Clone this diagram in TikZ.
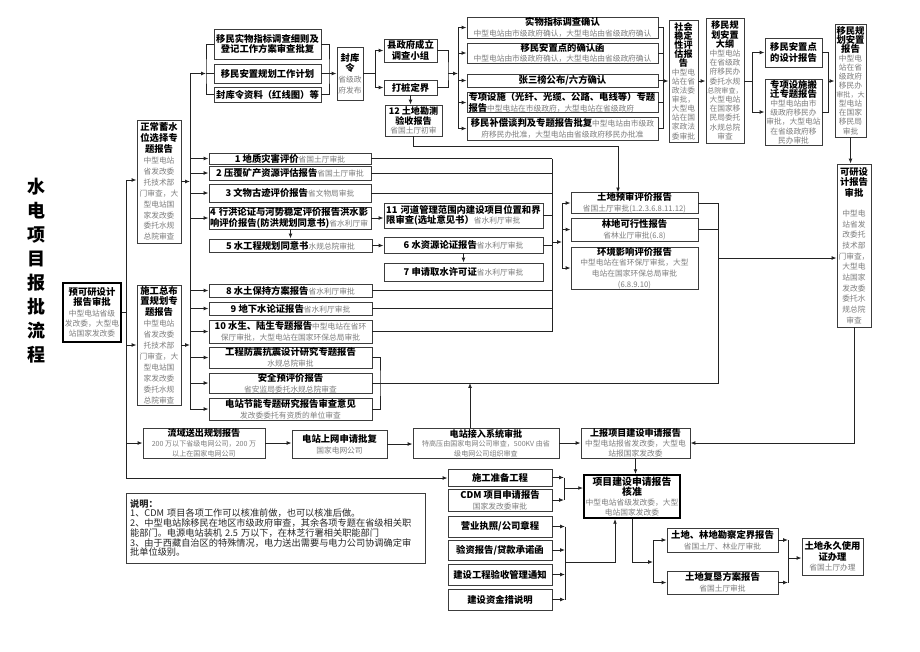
\documentclass[tikz,border=0pt]{standalone}
\usepackage{fontspec}
\setmainfont{Noto Sans CJK SC}
\usepackage{tikz}
\usetikzlibrary{arrows.meta}
\definecolor{boxline}{RGB}{60,60,60}
\definecolor{subgray}{RGB}{125,125,125}
\definecolor{linkgray}{RGB}{35,35,35}
\newcommand{\gl}[1]{{\mdseries\fontsize{5.8}{6.8}\selectfont\color{subgray}#1}}
\newcommand{\gls}[1]{{\mdseries\fontsize{5.3}{6.8}\selectfont\color{subgray}#1}}

\begin{document}
\begin{tikzpicture}[x=0.75pt, y=-0.75pt,
    rect/.style args={#1/#2/#3/#4}{at={({(#1+#3)/2},{(#2+#4)/2})},
                minimum width={(#3-#1)*0.75pt}, minimum height={(#4-#2)*0.75pt}},
    box/.style={rectangle, draw=boxline, line width=0.7pt, fill=white, inner sep=0pt,
                align=center, font=\fontsize{7}{8}\selectfont\bfseries},
    leftbox/.style={box, align=left, text width=#1},
    tallbox/.style={box, font=\fontsize{7}{8.2}\selectfont\bfseries},
    keybox/.style={draw=black, line width=1.4pt},
    link/.style={draw=linkgray, line width=0.6pt},
    arrow/.style={link, -{Latex[length=3.6pt, width=2.8pt]}}
]
\useasboundingbox (0,0) rectangle (920,651);

\node[font=\fontsize{13.5}{18}\selectfont\bfseries, align=center] (title) at (36,271)
  {水\\电\\项\\目\\报\\批\\流\\程};

% left column
\node[box, keybox, font=\fontsize{7}{7.8}\selectfont\bfseries, rect=63/283/121/342] (yks)
  {预可研设计\\报告审批\\\gl{中型电站省级}\\\gl{发改委，大型电}\\\gl{站国家发改委}};
\node[tallbox, rect=137/120/181/243] (zcxs)
  {正常蓄水\\位选择专\\题报告\\\gl{中型电站}\\\gl{省发改委}\\\gl{托技术部}\\\gl{门审查，大}\\\gl{型电站国}\\\gl{家发改委}\\\gl{委托水规}\\\gl{总院审查}};
\node[tallbox, rect=137/285/181/405] (sgzbz)
  {施工总布\\置规划专\\题报告\\\gl{中型电站}\\\gl{省发改委}\\\gl{托技术部}\\\gl{门审查，大}\\\gl{型电站国}\\\gl{家发改委}\\\gl{委托水规}\\\gl{总院审查}};

% top row
\node[box, rect=214/29/321/59] (sw1) {移民实物指标调查细则及\\登记工作方案审查批复};
\node[box, rect=214/64/321/83] (sw2) {移民安置规划工作计划};
\node[box, rect=214/87/321/102] (sw3) {封库令资料（红线图）等};
\node[box, rect=337/47/363/100] (fkl) {封库\\令\\\gl{省级政}\\\gl{府发布}};
\node[box, rect=384/39/437/62] (xzf) {县政府成立\\调查小组};
\node[box, rect=384/80/437/95] (dzd) {打桩定界};
\node[box, font=\fontsize{6.8}{7.3}\selectfont\bfseries, rect=385/105/442/136] (tk12)
  {12 土地勘测\\验收报告\\\gl{省国土厅初审}};
\node[box, rect=467/17/658/38] (q1) {实物指标调查确认\\\gl{中型电站由市级政府确认，大型电站由省级政府确认}};
\node[box, rect=467/43/658/63] (q2) {移民安置点的确认函\\\gl{中型电站由市级政府确认，大型电站由省级政府确认}};
\node[box, rect=467/74/658/87] (q3) {张三榜公布/六方确认};
\node[leftbox=141pt, rect=467/93/658/112] (q4)
  {专项设施（光纤、光缆、公路、电线等）专题\\报告\gl{中型电站在市级政府，大型电站在省级政府}};
\node[box, rect=467/117/658/140] (q5)
  {移民补偿谈判及专题报告批复\gl{中型电站由市级政}\\\gl{府移民办批准，大型电站由省级政府移民办批准}};
\node[box, font=\fontsize{6.8}{6.8}\selectfont\bfseries, rect=669/20/698/142] (shwd)
  {社会\\稳定\\性评\\估报\\告\\\gl{中型电}\\\gl{站在省}\\\gl{政法委}\\\gl{审批，}\\\gl{大型电}\\\gl{站在国}\\\gl{家政法}\\\gl{委审批}};
\node[box, font=\fontsize{6.8}{6.9}\selectfont\bfseries, rect=706/18/744/143] (dagang)
  {移民规\\划安置\\大纲\\\gl{中型电站}\\\gl{在省级政}\\\gl{府移民办}\\\gl{委托水规}\\\gls{总院审查，}\\\gl{大型电站}\\\gl{在国家移}\\\gl{民局委托}\\\gl{水规总院}\\\gl{审查}};
\node[box, rect=765/38/822/67] (azd) {移民安置点\\的设计报告};
\node[box, font=\fontsize{7}{6.9}\selectfont\bfseries, rect=765/79/822/145] (zxbq)
  {专项设施搬\\迁专题报告\\\gl{中型电站由市}\\\gl{级政府移民办}\\\gl{审批，大型电站}\\\gl{在省级政府移}\\\gl{民办审批}};
\node[box, font=\fontsize{7}{6.8}\selectfont\bfseries, rect=835/24/866/137] (ymgh)
  {移民规\\划安置\\报告\\\gl{中型电}\\\gl{站在省}\\\gl{级政府}\\\gl{移民办}\\\gls{审批，大}\\\gl{型电站}\\\gl{在国家}\\\gl{移民局}\\\gl{审批}};
\node[box, rect=837/164/871/327] (ky)
  {可研设\\计报告\\审批\\[7pt]\gl{中型电}\\\gl{站省发}\\\gl{改委托}\\\gl{技术部}\\\gl{门审查，}\\\gl{大型电}\\\gl{站国家}\\\gl{发改委}\\\gl{委托水}\\\gl{规总院}\\\gl{审查}};

% special reports
\node[box, rect=209/153/371/164] (r1) {1 地质灾害评价\gl{省国土厅审批}};
\node[box, rect=209/166/371/180] (r2) {2 压覆矿产资源评估报告\gl{省国土厅审批}};
\node[box, rect=209/184/371/202] (r3) {3 文物古迹评价报告\gl{省文物局审批}};
\node[leftbox=120pt, rect=209/207/371/229] (r4)
  {4 行洪论证与河势稳定评价报告洪水影\\响评价报告(防洪规划同意书)\gl{省水利厅审}};
\node[box, rect=209/239/372/252] (r5) {5 水工程规划同意书\gl{水规总院审批}};
\node[leftbox=116pt, rect=384/203/543/228] (r11)
  {11 河道管理范围内建设项目位置和界\\限审查(选址意见书）\gl{省水利厅审批}};
\node[box, rect=384/237/543/253] (r6) {6 水资源论证报告\gl{省水利厅审批}};
\node[box, rect=384/263/543/281] (r7) {7 申请取水许可证\gl{省水利厅审批}};
\node[box, rect=209/284/372/297] (r8) {8 水土保持方案报告\gl{省水利厅审批}};
\node[box, rect=209/302/372/315] (r9) {9 地下水论证报告\gl{省水利厅审批}};
\node[box, rect=209/320/372/343] (r10)
  {10 水生、陆生专题报告\gl{中型电站在省环}\\\gl{保厅审批，大型电站在国家环保总局审批}};
\node[box, rect=209/347/372/368] (fz) {工程防震抗震设计研究专题报告\\\gl{水规总院审批}};
\node[box, rect=209/373/372/393] (aq) {安全预评价报告\\\gl{省安监局委托水规总院审查}};
\node[box, rect=209/398/372/420] (jn) {电站节能专题研究报告审查意见\\\gl{发改委委托有资质的单位审查}};
\node[box, rect=571/193/698/213] (tdys) {土地预审评价报告\\\gl{省国土厅审批(1.2.3.6.8.11.12)}};
\node[box, rect=571/218/698/241] (ldkx) {林地可行性报告\\\gl{省林业厅审批(6.8)}};
\node[box, rect=571/247/698/289] (hjyx)
  {环境影响评价报告\\\gl{中型电站在省环保厅审批，大型}\\\gl{电站在国家环保总局审批}\\\gl{(6.8.9.10)}};

% bottom rows
\node[box, font=\fontsize{6.8}{7.2}\selectfont\bfseries, rect=143/428/265/458] (lyss)
  {流域送出规划报告\\\gls{200 万以下省级电网公司，200 万}\\\gls{以上在国家电网公司}};
\node[box, rect=292/430/387/458] (dzsw) {电站上网申请批复\\\gl{国家电网公司}};
\node[box, font=\fontsize{6.8}{7.2}\selectfont\bfseries, rect=413/428/559/458] (dzjr)
  {电站接入系统审批\\\gls{特高压由国家电网公司审查，500KV 由省}\\\gls{级电网公司组织审查}};
\node[box, font=\fontsize{6.8}{7.2}\selectfont\bfseries, rect=581/428/690/458] (sbxm)
  {上报项目建设申请报告\\\gl{中型电站报省发改委，大型电}\\\gl{站报国家发改委}};
\node[box, rect=448/469/552/486] (sgzbg) {施工准备工程};
\node[box, rect=448/489/552/511] (cdm) {CDM 项目申请报告\\\gl{国家发改委审批}};
\node[box, keybox, font=\fontsize{7.4}{7.3}\selectfont\bfseries, rect=584/475/680/518] (hz)
  {项目建设申请报告\\核准\\\gl{中型电站省级发改委，大型}\\\gl{电站国家发改委}};
\node[box, rect=448/516/552/537] (yyzz) {营业执照/公司章程};
\node[box, rect=448/540/552/560] (yzbg) {验资报告/贷款承诺函};
\node[box, rect=448/564/552/585] (ysgl) {建设工程验收管理通知};
\node[box, rect=448/589/552/610] (zjcs) {建设资金措说明};
\node[box, rect=667/528/778/552] (tdld) {土地、林地勘察定界报告\\\gl{省国土厅、林业厅审批}};
\node[box, rect=667/571/778/594] (tdfk) {土地复垦方案报告\\\gl{省国土厅审批}};
\node[box, font=\fontsize{7}{7.8}\selectfont\bfseries, rect=802/538/863/575] (tdyj)
  {土地永久使用\\证办理\\\gl{省国土厅办理}};
\node[leftbox=218pt, text=black!85, font=\fontsize{6.9}{7.3}\selectfont, rect=126/493/425/563] (shuoming)
  {\textbf{说明：}\\1、CDM 项目各项工作可以核准前做，也可以核准后做。\\2、中型电站除移民在地区市级政府审查，其余各项专题在省级相关职\\能部门。电源电站装机 2.5 万以下，在林芝行署相关职能部门\\3、由于西藏自治区的特殊情况，电力送出需要与电力公司协调确定审\\批单位级别。};

% left buses
\coordinate (busL) at (126,180);
\coordinate (busLend) at (126,478);
\draw[link] (busL) -- (busLend);
\draw[link] (yks.east) -- (yks.east -| busL);
\draw[arrow] (busL) -- (zcxs.west |- busL);
\draw[arrow] (sgzbz.west -| busL) -- (sgzbz.west);
\draw[arrow] (lyss.west -| busL) -- (lyss.west);
\draw[arrow] (busLend) -- (sgzbg.west |- busLend);

\coordinate (busM) at (190,73.5);
\coordinate (busMend) at (190,409);
\draw[link] (busM) -- (busMend);
\draw[arrow] (zcxs.east) -- (zcxs.east -| busM);
\draw[arrow] (sgzbz.east) -- (sgzbz.east -| busM);
\foreach \n in {r1,r2,r3,r4,r8,r9,r10,fz,aq,jn}
  \draw[arrow] (\n.west -| busM) -- (\n.west);

% top chain
\coordinate (swL) at (206,73.5);
\draw[arrow] (busM) -- (swL);
\draw[link] (sw1.west) -| (swL) |- (sw3.west);
\draw[link] (swL) -- (sw2.west);
\coordinate (swR) at (329,73.5);
\draw[link] (sw1.east) -| (swR) |- (sw3.east);
\draw[arrow] (sw2.east) -- (fkl.west);
\coordinate (fkR) at (375,73.5);
\draw[link] (fkl.east) -- (fkR);
\draw[arrow] (fkR) |- (xzf.west);
\draw[arrow] (fkR) |- (dzd.west);
\draw[arrow] (dzd.south) -- (dzd.south |- tk12.north);
\coordinate (xzR) at (448,73.5);
\coordinate (qL) at (458,73.5);
\draw[link] (xzf.east) -| (xzR) |- (dzd.east);
\draw[arrow] (xzR) -- (qL);
\foreach \n in {q1,q2,q3,q4,q5}
  \draw[arrow] (qL) |- (\n.west);
\coordinate (qR) at (663,81);
\foreach \n in {q1,q2,q3,q4,q5}
  \draw[link] (\n.east) -| (qR);
\draw[arrow] (qR) -- (shwd.west |- qR);
\draw[arrow] (shwd.east) -- (dagang.west |- shwd.east);
\coordinate (dgR) at (752,81);
\draw[link] (dagang.east |- dgR) -- (dgR);
\draw[arrow] (dgR) |- (azd.west);
\draw[arrow] (dgR) |- (zxbq.west);
\coordinate (azR) at (828,81);
\draw[link] (azd.east) -| (azR);
\draw[link] (zxbq.east) -| (azR);
\draw[arrow] (azR) -- (ymgh.west |- azR);
\draw[arrow] (ymgh.south) -- (ymgh.south |- ky.north);

\coordinate (t12) at (618,146);
\draw[arrow] (tk12.south) |- (t12) -- (t12 |- tdys.north);

% middle collectors
\draw[arrow] (r4.south -| r5.north) -- (r5.north);
\draw[arrow] (r4.east) -- (r11.west |- r4.east);
\draw[arrow] (r5.east) -- (r6.west |- r5.east);
\draw[arrow] (r6.south) -- (r7.north);
\coordinate (busR) at (552,158.5);
\coordinate (busRend) at (552,331.5);
\draw[link] (busR) -- (busRend);
\foreach \n in {r1,r2,r3,r11,r6,r8,r9,r10}
  \draw[link] (\n.east) -- (\n.east -| busR);
\coordinate (envL) at (562,242);
\draw[arrow] (envL -| busR) -- (envL);
\draw[arrow] (envL) |- (tdys.west);
\draw[arrow] (envL) |- (ldkx.west);
\draw[arrow] (envL) |- (hjyx.west);
\coordinate (kyL) at (718,258);
\coordinate (aqR) at (718,383);
\draw[link] (tdys.east) -| (kyL);
\draw[link] (ldkx.east) -| (kyL);
\draw[link] (aq.east) -- (aqR) -- (kyL);
\draw[arrow] (kyL) -- (ky.west |- kyL);
\coordinate (fzR) at (380,383);
\draw[link] (fz.east) -| (fzR) |- (jn.east);
\coordinate (jrUp) at (470,383);
\draw[arrow] (jrUp |- dzjr.north) -- (jrUp);

% bottom chain
\draw[arrow] (lyss.east) -- (dzsw.west |- lyss.east);
\draw[arrow] (dzsw.east) -- (dzjr.west |- dzsw.east);
\draw[arrow] (dzjr.east) -- (sbxm.west |- dzjr.east);
\draw[arrow] (ky.south) |- (sbxm.east);
\draw[arrow] (sbxm.south) -- (sbxm.south |- hz.north);
\coordinate (sgR) at (564,488);
\draw[arrow] (sgzbg.east) -- (sgzbg.east -| sgR);
\draw[arrow] (cdm.east) -- (cdm.east -| sgR);
\draw[link] (sgzbg.east -| sgR) -- (cdm.east -| sgR);
\draw[arrow] (sgR) -- (hz.west |- sgR);
\coordinate (yyR) at (565,562);
\coordinate (yyUp) at (615,562);
\foreach \n in {yyzz,yzbg,ysgl,zjcs}
  \draw[arrow] (\n.east) -- (\n.east -| yyR);
\draw[link] (yyzz.east -| yyR) -- (zjcs.east -| yyR);
\draw[arrow] (yyR) -- (yyUp) -- (yyUp |- hz.south);
\coordinate (tdL) at (653,562);
\draw[arrow] (hz.south) |- (tdL);
\draw[arrow] (tdL) |- (tdld.west);
\draw[arrow] (tdL) |- (tdfk.west);
\coordinate (tyL) at (788,558);
\draw[arrow] (tdld.east) -- (tdld.east -| tyL);
\draw[arrow] (tdfk.east) -- (tdfk.east -| tyL);
\draw[link] (tdld.east -| tyL) -- (tdfk.east -| tyL);
\draw[arrow] (tyL) -- (tdyj.west |- tyL);
\end{tikzpicture}
\end{document}
